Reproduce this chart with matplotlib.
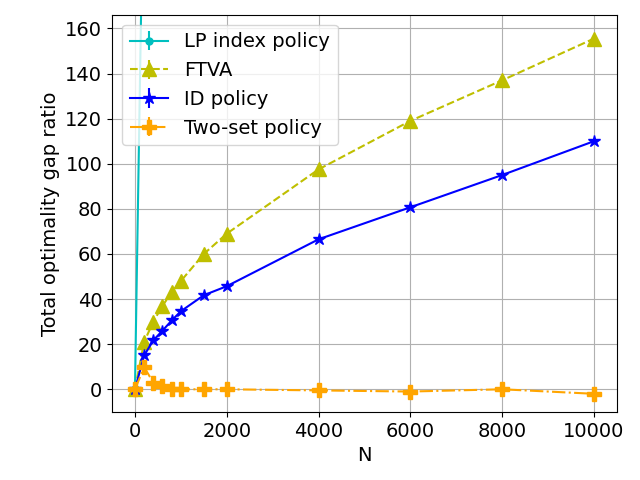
import matplotlib
matplotlib.use("Agg")
import matplotlib.pyplot as plt
import numpy as np

N = [0, 200, 400, 600, 800, 1000, 1500, 2000, 4000, 6000, 8000, 10000]
lp_index = [0, 250, 500, 750, 1000, 1250, 1875, 2500, 5000, 7500, 10000, 12500]
ftva = [0, 21, 30, 37, 43, 48, 60, 69, 97.5, 119, 137, 155.5]
id_policy = [0, 15, 21.7, 26, 30.5, 34.6, 41.7, 45.7, 66.5, 80.7, 95, 110]
two_set = [0, 9.8, 3, 1.5, 0.3, 0, 0, 0, -0.5, -1, 0, -2]
err = [0.5] * len(N)

plt.rcParams['font.size'] = 14
fig, ax = plt.subplots(figsize=(6.4, 4.8), dpi=100)
ax.errorbar(N, lp_index, yerr=err, fmt='c.-', label='LP index policy', markersize=10)
ax.errorbar(N, ftva, yerr=err, fmt='y^--', label='FTVA', markersize=10)
ax.errorbar(N, id_policy, yerr=err, fmt='b*-', label='ID policy', markersize=9)
ax.errorbar(N, two_set, yerr=err, fmt='P-.', color='orange', label='Two-set policy', markersize=10)
ax.set_ylim(-10, 166)
ax.set_xlabel('N')
ax.set_ylabel('Total optimality gap ratio')
ax.grid(True)
ax.legend(loc='upper left')
fig.subplots_adjust(left=0.175, right=0.964, top=0.969, bottom=0.142)
fig.savefig('out.png')
